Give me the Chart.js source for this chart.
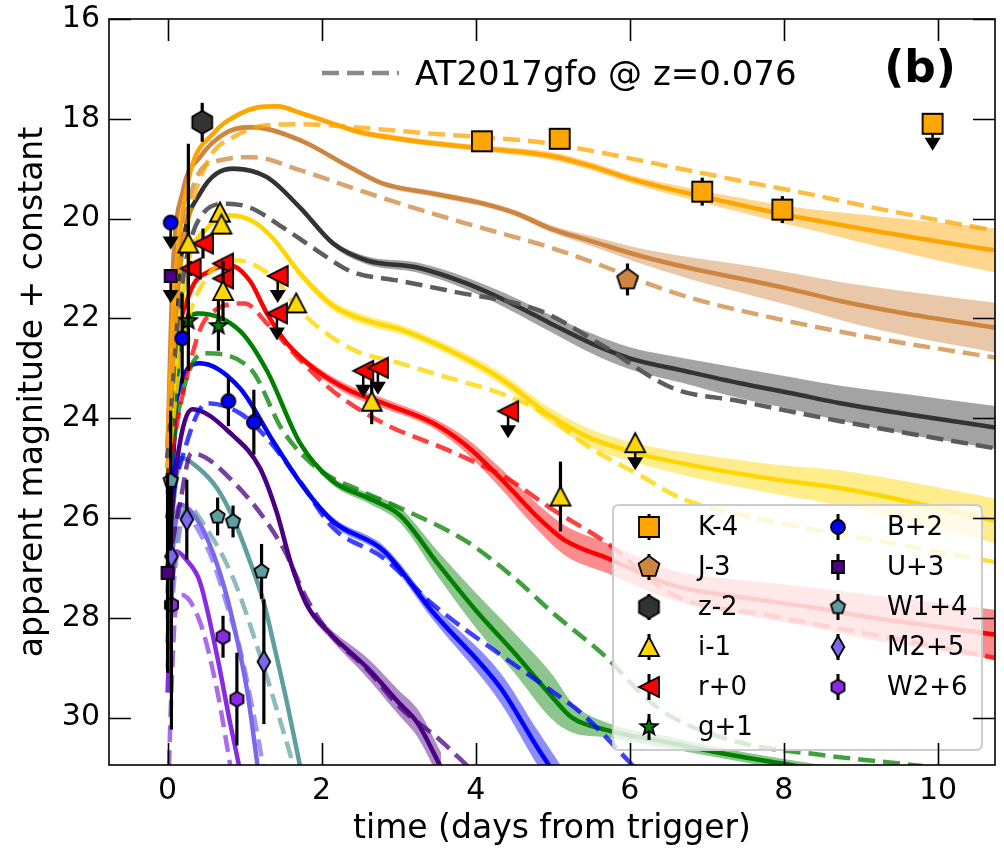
<!DOCTYPE html>
<html><head><meta charset="utf-8">
<script src="https://cdn.jsdelivr.net/npm/chart.js@4.4.1/dist/chart.umd.min.js"></script>
<style>html,body{margin:0;padding:0;background:#fff;}canvas{display:block;}</style>
</head><body>
<canvas id="c" width="1004" height="851"></canvas>
<script>
// ---------------- axis ----------------
const X_MIN = -0.76, X_MAX = 10.74, Y_MIN = 16, Y_MAX = 30.95;
const X_STEP = 2, Y_STEP = 2;
const X_TITLE = 'time (days from trigger)';
const Y_TITLE = 'apparent magnitude + constant';
const REF_LABEL = 'AT2017gfo @ z=0.076';
const PANEL_LABEL = '(b)';
const legendCol1 = ['K-4', 'J-3', 'z-2', 'i-1', 'r+0', 'g+1'];
const legendCol2 = ['B+2', 'U+3', 'W1+4', 'M2+5', 'W2+6'];

// ---------------- model curves (solid), band half-widths, AT2017gfo (dashed) ----------------
const K_t = [0, 0.07, 0.14, 0.29, 0.59, 0.94, 1.15, 1.42, 1.72, 2.15, 2.5, 3.0, 3.5, 4.0, 4.5, 5.0, 5.5, 6.0, 6.5, 7.0, 7.5, 8.0, 8.5, 9.0, 9.5, 10.0, 10.8];
const K_m = [24.6, 22.0, 20.58, 19.1, 18.3, 17.9, 17.78, 17.75, 17.88, 18.1, 18.27, 18.4, 18.5, 18.58, 18.65, 18.75, 18.95, 19.2, 19.4, 19.58, 19.75, 19.92, 20.06, 20.2, 20.33, 20.46, 20.65];
const K_w = [0, 0, 0.03, 0.05, 0.05, 0.05, 0.05, 0.05, 0.05, 0.05, 0.06, 0.06, 0.06, 0.06, 0.07, 0.08, 0.08, 0.08, 0.1, 0.12, 0.15, 0.18, 0.22, 0.28, 0.33, 0.38, 0.45];
const Kd_t = [0, 0.15, 0.29, 0.55, 0.85, 1.29, 1.72, 2.59, 3.45, 4.1, 4.84, 5.7, 6.56, 7.43, 8.3, 9.16, 10.03, 10.8];
const Kd_m = [24.6, 21.2, 19.9, 18.77, 18.37, 18.13, 18.11, 18.19, 18.3, 18.37, 18.47, 18.7, 18.97, 19.24, 19.5, 19.78, 20.04, 20.26];

const J_t = [0, 0.07, 0.2, 0.42, 0.77, 1.1, 1.72, 2.37, 2.8, 3.45, 4.1, 4.53, 4.97, 5.5, 6.14, 6.8, 7.43, 8.1, 8.73, 9.5, 10.8];
const J_m = [24.6, 21.0, 19.44, 18.77, 18.27, 18.17, 18.43, 18.97, 19.3, 19.5, 19.7, 19.9, 20.2, 20.45, 20.75, 21.0, 21.2, 21.42, 21.65, 21.88, 22.2];
const J_w = [0, 0, 0.04, 0.05, 0.05, 0.05, 0.05, 0.05, 0.05, 0.06, 0.06, 0.06, 0.07, 0.1, 0.15, 0.22, 0.28, 0.33, 0.38, 0.44, 0.5];
const Jd_t = [0, 0.15, 0.38, 0.68, 1.11, 1.72, 2.37, 3.02, 3.88, 4.97, 5.7, 6.14, 6.79, 7.86, 9.16, 10.8];
const Jd_m = [24.6, 21.0, 19.17, 18.83, 18.77, 19.03, 19.37, 19.7, 20.1, 20.58, 20.98, 21.25, 21.59, 21.99, 22.39, 22.8];

const z_t = [0, 0.08, 0.2, 0.42, 0.85, 1.29, 1.72, 2.15, 2.59, 3.24, 3.88, 4.53, 4.97, 5.5, 6.0, 6.7, 7.43, 8.1, 8.73, 9.6, 10.8];
const z_m = [24.8, 22.5, 20.5, 19.5, 19.0, 19.17, 19.78, 20.5, 20.84, 20.98, 21.3, 21.75, 22.1, 22.5, 22.8, 23.05, 23.3, 23.5, 23.7, 23.92, 24.2];
const z_w = [0, 0, 0.04, 0.05, 0.05, 0.05, 0.05, 0.06, 0.08, 0.1, 0.12, 0.15, 0.17, 0.2, 0.22, 0.25, 0.3, 0.32, 0.35, 0.4, 0.43];
const zd_t = [0, 0.15, 0.42, 0.77, 1.07, 1.5, 1.94, 2.37, 3.02, 3.67, 4.84, 5.6, 6.56, 7.43, 8.73, 10.8];
const zd_m = [24.8, 21.8, 19.98, 19.7, 19.78, 20.18, 20.64, 21.05, 21.25, 21.45, 21.85, 22.5, 23.4, 23.66, 24.06, 24.62];

const i_t = [0, 0.1, 0.25, 0.51, 0.81, 1.1, 1.37, 1.72, 2.15, 2.6, 3.02, 3.67, 4.32, 4.97, 5.49, 6.14, 7.0, 8.0, 8.73, 9.7, 10.8];
const i_m = [24.8, 23.0, 21.0, 20.2, 19.94, 20.05, 20.4, 21.1, 21.75, 22.05, 22.22, 22.65, 23.2, 23.95, 24.4, 24.72, 25.0, 25.25, 25.4, 25.7, 26.08];
const i_w = [0, 0, 0.04, 0.05, 0.05, 0.05, 0.06, 0.08, 0.1, 0.1, 0.1, 0.1, 0.12, 0.15, 0.18, 0.2, 0.25, 0.3, 0.35, 0.4, 0.45];
const id_t = [0, 0.2, 0.5, 0.9, 1.37, 1.72, 2.37, 3.02, 3.67, 4.32, 4.84, 5.49, 6.14, 6.66, 7.86, 9.2, 10.8];
const id_m = [25.0, 22.5, 21.2, 20.84, 21.18, 21.85, 22.6, 22.9, 23.2, 23.5, 23.86, 24.6, 25.15, 25.6, 26.07, 26.45, 26.9];

const r_t = [0, 0.12, 0.3, 0.55, 0.81, 1.07, 1.29, 1.55, 1.94, 2.37, 2.8, 3.45, 3.88, 4.32, 4.75, 5.16, 5.7, 6.56, 7.5, 8.4, 9.16, 10.0, 10.8];
const r_m = [25.0, 22.6, 21.45, 21.05, 20.94, 21.25, 21.9, 22.5, 23.05, 23.45, 23.7, 24.1, 24.55, 25.2, 25.9, 26.45, 26.8, 27.35, 27.6, 27.8, 28.0, 28.18, 28.35];
const r_w = [0, 0, 0.04, 0.05, 0.05, 0.05, 0.05, 0.06, 0.08, 0.1, 0.1, 0.1, 0.15, 0.2, 0.25, 0.3, 0.3, 0.3, 0.35, 0.4, 0.45, 0.48, 0.5];
const rd_t = [0, 0.2, 0.5, 1.0, 1.29, 1.7, 2.15, 2.8, 3.67, 4.4, 4.97, 5.7, 6.56, 7.8, 9.16, 10.8];
const rd_m = [25.2, 23.5, 22.0, 21.7, 22.1, 22.8, 23.46, 24.1, 24.66, 25.2, 25.8, 26.5, 27.54, 27.95, 28.34, 28.82];

const g_t = [0, 0.2, 0.4, 0.94, 1.29, 1.72, 2.15, 2.6, 3.02, 3.5, 4.0, 4.5, 5.0, 5.25, 5.7, 6.5, 7.5, 8.5, 9.5];
const g_m = [25.2, 22.3, 21.9, 22.25, 23.05, 24.5, 25.27, 25.6, 25.95, 26.9, 27.85, 28.7, 29.6, 30.0, 30.25, 30.5, 30.8, 31.05, 31.3];
const g_w = [0, 0.03, 0.04, 0.05, 0.05, 0.06, 0.08, 0.1, 0.15, 0.25, 0.35, 0.4, 0.45, 0.3, 0.15, 0.12, 0.1, 0.1, 0.1];
const gd_t = [0, 0.15, 0.46, 1.07, 1.5, 1.94, 2.5, 3.02, 3.88, 4.5, 5.0, 5.7, 6.2, 6.56, 7.43, 8.5, 9.8];
const gd_m = [25.5, 23.8, 22.7, 23.0, 24.26, 25.0, 25.45, 25.8, 26.47, 27.2, 27.9, 28.8, 29.6, 30.0, 30.5, 30.75, 30.97];

const B_t = [0, 0.07, 0.12, 0.42, 0.94, 1.37, 1.75, 2.15, 2.8, 3.45, 4.32, 4.8, 5.1];
const B_m = [26.0, 24.9, 23.6, 22.9, 23.4, 24.46, 25.35, 26.07, 26.65, 27.9, 29.4, 30.6, 31.3];
const B_w = [0, 0, 0.03, 0.04, 0.05, 0.05, 0.06, 0.08, 0.1, 0.15, 0.3, 0.35, 0.35];
const Bd_t = [0, 0.15, 0.51, 0.94, 1.29, 1.72, 2.15, 2.8, 3.45, 4.32, 4.97, 5.4, 6.0, 6.3];
const Bd_m = [26.0, 25.0, 23.7, 23.9, 24.4, 25.27, 26.2, 26.8, 27.74, 28.74, 29.45, 29.95, 30.9, 31.4];

const U_t = [0, 0.12, 0.32, 0.85, 1.2, 1.42, 1.6, 1.81, 2.1, 2.59, 3.0, 3.24, 3.55];
const U_m = [27.0, 24.9, 23.82, 24.35, 25.0, 25.9, 26.9, 27.75, 28.3, 29.0, 29.7, 30.1, 31.0];
const U_w = [0, 0.03, 0.04, 0.05, 0.05, 0.05, 0.06, 0.08, 0.1, 0.2, 0.25, 0.28, 0.3];
const Ud_t = [0, 0.15, 0.31, 0.85, 1.5, 1.8, 2.1, 2.6, 3.02, 3.5, 3.9];
const Ud_m = [27.0, 25.8, 24.7, 25.27, 26.6, 27.6, 28.3, 29.05, 29.8, 30.4, 30.98];

const W1_t = [0, 0.06, 0.18, 0.4, 0.64, 0.85, 1.07, 1.25, 1.41, 1.55, 1.75];
const W1_m = [27.5, 26.0, 24.8, 25.0, 25.4, 26.0, 26.87, 27.7, 28.74, 29.7, 31.2];
const W1_w = [0, 0, 0.03, 0.04, 0.05, 0.05, 0.05, 0.05, 0.05, 0.05, 0.05];
const W1d_t = [0, 0.1, 0.25, 0.5, 0.85, 1.2, 1.45, 1.7];
const W1d_m = [28.0, 26.5, 25.75, 26.2, 27.2, 28.75, 30.0, 31.3];

const M2_t = [0, 0.06, 0.16, 0.35, 0.51, 0.7, 0.85, 1.03, 1.18];
const M2_m = [28.5, 26.8, 25.73, 25.95, 26.4, 27.2, 28.08, 29.43, 31.1];
const M2_w = [0, 0, 0.03, 0.04, 0.04, 0.04, 0.04, 0.04, 0.04];
const M2d_t = [0, 0.1, 0.22, 0.4, 0.59, 0.8, 0.94, 1.1, 1.27];
const M2d_m = [29.0, 27.0, 25.87, 26.25, 26.87, 27.9, 28.62, 29.8, 31.2];

const W2_t = [0, 0.05, 0.12, 0.25, 0.42, 0.64, 0.81, 0.96];
const W2_m = [29.5, 27.6, 26.67, 26.85, 27.28, 28.74, 30.09, 31.2];
const W2_w = [0, 0, 0.03, 0.04, 0.04, 0.04, 0.04, 0.04];
const W2d_t = [0, 0.02, 0.05, 0.1, 0.18, 0.42, 0.64, 0.83];
const W2d_m = [33, 31.0, 29.5, 27.9, 27.54, 28.08, 29.43, 31.1];

// ---------------- observed photometry (t, mag, error, upper limit flag) ----------------
const K_pt_t = [4.08, 5.09, 6.94, 7.98, 9.93];
const K_pt_m = [18.45, 18.4, 19.46, 19.82, 18.1];
const K_pt_e = [0.05, 0.05, 0.28, 0.27, 0];
const K_pt_ul = [0, 0, 0, 0, 1];
const J_pt_t = [5.97], J_pt_m = [21.22], J_pt_e = [0.32], J_pt_ul = [0];
const z_pt_t = [0.45], z_pt_m = [18.07], z_pt_e = [0.39], z_pt_ul = [0];
const i_pt_t = [0.27, 0.68, 0.7, 0.72, 1.67, 2.65, 5.1, 6.07];
const i_pt_m = [20.5, 19.88, 20.12, 21.45, 21.7, 23.67, 25.57, 24.5];
const i_pt_e = [2.0, 0.1, 0.1, 0.6, 0, 0.45, 0.7, 0];
const i_pt_ul = [0, 0, 0, 0, 0, 0, 0, 1];
const r_pt_t = [0.3, 0.46, 0.72, 0.72, 1.43, 1.42, 2.54, 2.73, 4.42];
const r_pt_m = [21.0, 20.5, 20.9, 21.2, 21.15, 21.9, 23.05, 22.99, 23.86];
const r_pt_e = [0.15, 0.3, 0.1, 0.1, 0, 0, 0, 0, 0];
const r_pt_ul = [0, 0, 0, 0, 1, 1, 1, 1, 1];
const g_pt_t = [0.27, 0.66], g_pt_m = [22.05, 22.15], g_pt_e = [1.0, 0.5], g_pt_ul = [0, 0];
const B_pt_t = [0.04, 0.19, 0.79, 1.12];
const B_pt_m = [20.08, 22.4, 23.66, 24.08];
const B_pt_e = [0, 0.9, 0.5, 0.65];
const B_pt_ul = [1, 0, 0, 0];
const U_pt_t = [0.04, 0.0], U_pt_m = [21.15, 27.1], U_pt_e = [0, 2.0], U_pt_ul = [1, 0];
const W1_pt_t = [0.04, 0.65, 0.85, 1.22];
const W1_pt_m = [25.25, 25.97, 26.07, 27.07];
const W1_pt_e = [1.4, 0.38, 0.32, 0.55];
const W1_pt_ul = [0, 0, 0, 0];
const M2_pt_t = [0.05, 0.25, 1.25], M2_pt_m = [26.77, 26.03, 28.88], M2_pt_e = [1.5, 0.8, 1.25], M2_pt_ul = [0, 0, 0];
const W2_pt_t = [0.05, 0.72, 0.9], W2_pt_m = [27.74, 28.38, 29.63], W2_pt_e = [2.5, 0.42, 0.93], W2_pt_ul = [0, 0, 0];

// ---------------- styles ----------------
const FONT = "'DejaVu Sans', 'Liberation Sans', sans-serif";
function rgba(hex, a) {
  const n = parseInt(hex.slice(1), 16);
  return `rgba(${(n >> 16) & 255},${(n >> 8) & 255},${n & 255},${a})`;
}
function shapePath(g, shape, s) {
  g.beginPath();
  if (shape === 'square') { g.rect(-s / 2, -s / 2, s, s); }
  else if (shape === 'circle') { g.arc(0, 0, s / 2, 0, Math.PI * 2); }
  else if (shape === 'hexagon' || shape === 'pentagon') {
    const n = shape === 'hexagon' ? 6 : 5; const r = s / 2;
    for (let k = 0; k < n; k++) { const a = -Math.PI / 2 + k * 2 * Math.PI / n; const px = r * Math.cos(a), py = r * Math.sin(a); k ? g.lineTo(px, py) : g.moveTo(px, py); }
    g.closePath();
  } else if (shape === 'triUp') {
    g.moveTo(0, -s / 2); g.lineTo(s / 2, s / 2 - 1); g.lineTo(-s / 2, s / 2 - 1); g.closePath();
  } else if (shape === 'triLeft') {
    g.moveTo(-s / 2, 0); g.lineTo(s / 2, -s / 2); g.lineTo(s / 2, s / 2); g.closePath();
  } else if (shape === 'star') {
    const ro = s / 2, ri = s / 2 * 0.42;
    for (let k = 0; k < 10; k++) { const r = k % 2 ? ri : ro; const a = -Math.PI / 2 + k * Math.PI / 5; const px = r * Math.cos(a), py = r * Math.sin(a); k ? g.lineTo(px, py) : g.moveTo(px, py); }
    g.closePath();
  } else if (shape === 'thinDiamond') {
    g.moveTo(0, -s / 2); g.lineTo(s * 0.29, 0); g.lineTo(0, s / 2); g.lineTo(-s * 0.29, 0); g.closePath();
  }
}
function makeMarker(shape, s, fill) {
  const c = document.createElement('canvas');
  const d = Math.ceil(s + 6); c.width = d; c.height = d;
  const g = c.getContext('2d');
  g.translate(d / 2, d / 2);
  shapePath(g, shape, s);
  g.fillStyle = fill; g.fill();
  g.lineWidth = 1.8; g.strokeStyle = '#000'; g.lineJoin = 'miter'; g.stroke();
  return c;
}

const FILTERS = [
  { name: 'K', color: '#FFA500', dcol: rgba('#FFA500', 0.75), t: K_t, m: K_m, w: K_w, dt: Kd_t, dm: Kd_m, pt: K_pt_t, pm: K_pt_m, pe: K_pt_e, pu: K_pt_ul, shape: 'square', size: 20 },
  { name: 'J', color: '#CD853F', dcol: rgba('#CD853F', 0.75), t: J_t, m: J_m, w: J_w, dt: Jd_t, dm: Jd_m, pt: J_pt_t, pm: J_pt_m, pe: J_pt_e, pu: J_pt_ul, shape: 'pentagon', size: 22 },
  { name: 'z', color: '#333333', dcol: 'rgba(85,85,85,0.95)', t: z_t, m: z_m, w: z_w, dt: zd_t, dm: zd_m, pt: z_pt_t, pm: z_pt_m, pe: z_pt_e, pu: z_pt_ul, shape: 'hexagon', size: 23 },
  { name: 'i', color: '#FFD700', dcol: rgba('#FFD700', 0.8), t: i_t, m: i_m, w: i_w, dt: id_t, dm: id_m, pt: i_pt_t, pm: i_pt_m, pe: i_pt_e, pu: i_pt_ul, shape: 'triUp', size: 20 },
  { name: 'r', color: '#FF0000', dcol: rgba('#FF0000', 0.75), t: r_t, m: r_m, w: r_w, dt: rd_t, dm: rd_m, pt: r_pt_t, pm: r_pt_m, pe: r_pt_e, pu: r_pt_ul, shape: 'triLeft', size: 20 },
  { name: 'g', color: '#008000', dcol: rgba('#008000', 0.75), t: g_t, m: g_m, w: g_w, dt: gd_t, dm: gd_m, pt: g_pt_t, pm: g_pt_m, pe: g_pt_e, pu: g_pt_ul, shape: 'star', size: 18 },
  { name: 'B', color: '#0000FF', dcol: rgba('#0000FF', 0.75), t: B_t, m: B_m, w: B_w, dt: Bd_t, dm: Bd_m, pt: B_pt_t, pm: B_pt_m, pe: B_pt_e, pu: B_pt_ul, shape: 'circle', size: 14 },
  { name: 'U', color: '#4B0082', dcol: rgba('#4B0082', 0.75), t: U_t, m: U_m, w: U_w, dt: Ud_t, dm: Ud_m, pt: U_pt_t, pm: U_pt_m, pe: U_pt_e, pu: U_pt_ul, shape: 'square', size: 12 },
  { name: 'W1', color: '#5F9EA0', dcol: rgba('#5F9EA0', 0.7), t: W1_t, m: W1_m, w: W1_w, dt: W1d_t, dm: W1d_m, pt: W1_pt_t, pm: W1_pt_m, pe: W1_pt_e, pu: W1_pt_ul, shape: 'pentagon', size: 15 },
  { name: 'M2', color: '#7B68EE', dcol: rgba('#7B68EE', 0.7), t: M2_t, m: M2_m, w: M2_w, dt: M2d_t, dm: M2d_m, pt: M2_pt_t, pm: M2_pt_m, pe: M2_pt_e, pu: M2_pt_ul, shape: 'thinDiamond', size: 22 },
  { name: 'W2', color: '#8A2BE2', dcol: rgba('#8A2BE2', 0.7), t: W2_t, m: W2_m, w: W2_w, dt: W2d_t, dm: W2d_m, pt: W2_pt_t, pm: W2_pt_m, pe: W2_pt_e, pu: W2_pt_ul, shape: 'hexagon', size: 15 }
];
FILTERS.forEach(f => { f.img = makeMarker(f.shape, f.size, f.color); });

// ---------------- datasets ----------------
const xy = (ts, ms) => ts.map((t, k) => ({ x: t, y: ms[k] }));
const datasets = [];
FILTERS.forEach(f => {
  datasets.push({
    label: f.name + ' obs', data: xy(f.pt, f.pm), showLine: false, order: 0,
    pointStyle: f.img, pointRadius: 6, pointHoverRadius: 6, errs: f.pe, uls: f.pu, clip: false
  });
});
FILTERS.forEach(f => {
  datasets.push({ label: f.name + ' AT2017gfo', data: xy(f.dt, f.dm), borderColor: f.dcol, borderWidth: 4.5, borderDash: [17, 8], pointRadius: 0, fill: false, cubicInterpolationMode: 'monotone', order: 1, clip: 0 });
  datasets.push({ label: f.name + ' model', data: xy(f.t, f.m), borderColor: f.color, borderWidth: 4.5, pointRadius: 0, fill: false, cubicInterpolationMode: 'monotone', order: 2, clip: 0 });
  datasets.push({ label: f.name + ' hi', data: xy(f.t, f.m.map((v, k) => v - f.w[k])), borderWidth: 0, borderColor: 'rgba(0,0,0,0)', pointRadius: 0, fill: false, cubicInterpolationMode: 'monotone', order: 3, clip: 0 });
  datasets.push({ label: f.name + ' lo', data: xy(f.t, f.m.map((v, k) => v + f.w[k])), borderWidth: 0, borderColor: 'rgba(0,0,0,0)', backgroundColor: rgba(f.color, 0.45), pointRadius: 0, fill: '-1', cubicInterpolationMode: 'monotone', order: 3, clip: 0 });
});

// ---------------- plugins ----------------
const errPlugin = {
  id: 'errbars',
  beforeDatasetDraw(chart, args) {
    const ds = chart.data.datasets[args.index];
    if (!ds.errs) return;
    const ctx = chart.ctx, ys = chart.scales.y;
    ctx.save();
    ctx.strokeStyle = '#000'; ctx.fillStyle = '#000'; ctx.lineCap = 'butt';
    args.meta.data.forEach((el, k) => {
      const e = ds.errs[k], m = ds.data[k].y;
      if (e > 0) {
        ctx.lineWidth = 3.2;
        ctx.beginPath(); ctx.moveTo(el.x, ys.getPixelForValue(m - e)); ctx.lineTo(el.x, ys.getPixelForValue(m + e)); ctx.stroke();
      }
      if (ds.uls[k]) {
        ctx.lineWidth = 2.5;
        ctx.beginPath(); ctx.moveTo(el.x, el.y); ctx.lineTo(el.x, el.y + 16); ctx.stroke();
        ctx.beginPath(); ctx.moveTo(el.x - 8, el.y + 14); ctx.lineTo(el.x + 8, el.y + 14); ctx.lineTo(el.x, el.y + 27); ctx.closePath(); ctx.fill();
      }
    });
    ctx.restore();
  }
};

function roundRect(ctx, x, y, w, h, r) {
  ctx.beginPath();
  ctx.moveTo(x + r, y); ctx.lineTo(x + w - r, y); ctx.quadraticCurveTo(x + w, y, x + w, y + r);
  ctx.lineTo(x + w, y + h - r); ctx.quadraticCurveTo(x + w, y + h, x + w - r, y + h);
  ctx.lineTo(x + r, y + h); ctx.quadraticCurveTo(x, y + h, x, y + h - r);
  ctx.lineTo(x, y + r); ctx.quadraticCurveTo(x, y, x + r, y); ctx.closePath();
}

const decor = {
  id: 'decor',
  afterDatasetsDraw(chart) {
    const { ctx, chartArea: a, scales } = chart;
    ctx.save();
    // reference (AT2017gfo) legend
    ctx.strokeStyle = '#888888'; ctx.lineWidth = 4.5; ctx.setLineDash([17, 8]);
    ctx.beginPath(); ctx.moveTo(322, 73); ctx.lineTo(399, 73); ctx.stroke(); ctx.setLineDash([]);
    ctx.fillStyle = '#000'; ctx.textBaseline = 'middle'; ctx.textAlign = 'left';
    ctx.font = '34px ' + FONT; ctx.fillText(REF_LABEL, 415, 76);
    ctx.font = 'bold 44px ' + FONT; ctx.textAlign = 'center'; ctx.fillText(PANEL_LABEL, 920, 71);
    // filter legend
    roundRect(ctx, 613, 505, 369, 245, 6);
    ctx.fillStyle = 'rgba(255,255,255,0.8)'; ctx.fill();
    ctx.strokeStyle = '#cccccc'; ctx.lineWidth = 2; ctx.stroke();
    ctx.font = '26px ' + FONT; ctx.textAlign = 'left'; ctx.textBaseline = 'middle';
    const drawEntry = (f, label, mx, tx, yy) => {
      ctx.strokeStyle = '#000'; ctx.lineWidth = 3;
      ctx.beginPath(); ctx.moveTo(mx, yy - 13); ctx.lineTo(mx, yy + 13); ctx.stroke();
      ctx.drawImage(f.img, mx - f.img.width / 2, yy - f.img.height / 2);
      ctx.fillStyle = '#000'; ctx.fillText(label, tx, yy + 1);
    };
    legendCol1.forEach((lab, k) => drawEntry(FILTERS[k], lab, 649, 698, 527 + 40 * k));
    legendCol2.forEach((lab, k) => drawEntry(FILTERS[6 + k], lab, 838, 887, 527 + 40 * k));
    // frame and inward ticks
    ctx.strokeStyle = '#000'; ctx.lineWidth = 1.6;
    ctx.strokeRect(a.left, a.top, a.right - a.left, a.bottom - a.top);
    const TL = 22;
    ctx.beginPath();
    scales.x.ticks.forEach(tk => {
      const px = Math.round(scales.x.getPixelForValue(tk.value)) + 0.5;
      ctx.moveTo(px, a.bottom); ctx.lineTo(px, a.bottom - TL);
      ctx.moveTo(px, a.top); ctx.lineTo(px, a.top + TL);
    });
    scales.y.ticks.forEach(tk => {
      const py = Math.round(scales.y.getPixelForValue(tk.value)) + 0.5;
      ctx.moveTo(a.left, py); ctx.lineTo(a.left + TL, py);
      ctx.moveTo(a.right, py); ctx.lineTo(a.right - TL, py);
    });
    ctx.stroke();
    ctx.restore();
  }
};

new Chart(document.getElementById('c'), {
  type: 'line',
  data: { datasets },
  options: {
    responsive: false, animation: false, events: [],
    layout: { padding: { top: 19, right: 9, left: 0, bottom: 0 } },
    plugins: { legend: { display: false }, tooltip: { enabled: false }, filler: { propagate: false } },
    scales: {
      x: {
        type: 'linear', min: X_MIN, max: X_MAX,
        ticks: { stepSize: X_STEP, includeBounds: false, color: '#000', font: { family: FONT, size: 30 }, padding: 8, maxRotation: 0 },
        grid: { display: false, drawTicks: false }, border: { display: false },
        title: { display: true, text: X_TITLE, color: '#000', font: { family: FONT, size: 33 }, padding: { top: 0, bottom: 2 } },
        afterFit: s => { s.height = 86; s.paddingLeft = 0; s.paddingRight = 0; }
      },
      y: {
        type: 'linear', reverse: true, min: Y_MIN, max: Y_MAX,
        ticks: { stepSize: Y_STEP, includeBounds: false, color: '#000', font: { family: FONT, size: 30 }, padding: 9 },
        grid: { display: false, drawTicks: false }, border: { display: false },
        title: { display: true, text: Y_TITLE, color: '#000', font: { family: FONT, size: 33 }, padding: { top: 14, bottom: 0 } },
        afterFit: s => { s.width = 109; s.paddingTop = 0; s.paddingBottom = 0; }
      }
    }
  },
  plugins: [errPlugin, decor]
});
</script>
</body></html>
